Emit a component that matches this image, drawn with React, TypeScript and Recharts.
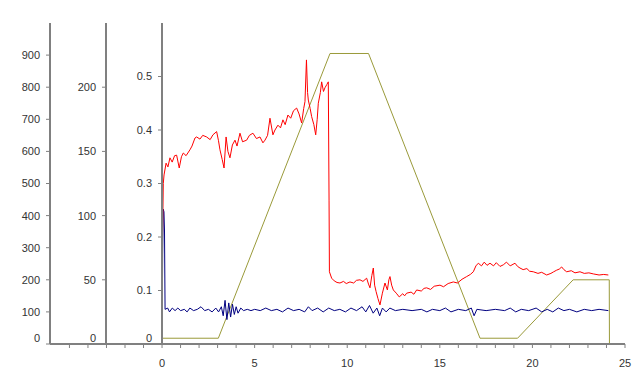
import { LineChart, Line, XAxis, YAxis } from "recharts";

// x positions (minutes) and tick values
const xTicks = [-5, -4, -3, -2, -1, 0, 1, 2, 3, 4, 5, 6, 7, 8, 9, 10, 11, 12, 13, 14, 15, 16, 17, 18, 19, 20, 21, 22, 23, 24, 25];
const tempTicks = [0, 100, 200, 300, 400, 500, 600, 700, 800, 900];
const flowTicks = [0, 50, 100, 150, 200];
const rateTicks = [0, 0.1, 0.2, 0.3, 0.4, 0.5];

// olive profile, left axis (0-1000)
const tempPoints: [number, number][] = [
  [0, 18], [3.04, 18], [9.07, 905], [11.15, 905], [17.17, 18], [19.2, 18], [22.2, 200], [24.15, 200], [24.16, 0],
];

// navy trace, middle axis (0-250)
const flowPoints: [number, number][] = [
  [0, 0], [0.03, 70], [0.06, 105], [0.1, 103], [0.13, 88], [0.16, 27], [0.3, 28], [0.4, 25], [0.55, 28], [0.7, 26],
  [0.85, 28], [1.0, 26], [1.2, 27], [1.35, 25], [1.5, 28], [1.7, 26], [1.9, 27], [2.1, 29], [2.3, 26], [2.5, 27],
  [2.7, 25], [2.9, 28], [3.05, 25], [3.2, 29], [3.3, 22], [3.4, 34], [3.5, 19], [3.6, 32], [3.7, 21], [3.8, 31],
  [3.9, 23], [4.0, 29], [4.1, 24], [4.25, 28], [4.4, 26], [4.6, 27], [4.8, 26], [5.0, 27], [5.3, 26], [5.6, 28],
  [5.9, 26], [6.2, 27], [6.5, 25], [6.8, 28], [7.1, 26], [7.4, 27], [7.7, 25], [7.9, 29], [8.1, 26], [8.4, 28],
  [8.7, 25], [9.0, 28], [9.3, 26], [9.6, 27], [9.9, 25], [10.2, 28], [10.5, 26], [10.8, 29], [11.0, 25], [11.2, 30],
  [11.4, 24], [11.6, 28], [11.75, 22], [11.9, 28], [12.1, 25], [12.3, 28], [12.6, 26], [13.0, 27], [13.5, 26],
  [14.0, 27], [14.3, 25], [14.6, 27], [15.0, 26], [15.3, 28], [15.6, 25], [16.0, 27], [16.4, 26], [16.7, 28],
  [16.85, 22], [17.0, 27], [17.5, 26], [18.0, 27], [18.5, 26], [18.8, 28], [19.1, 25], [19.4, 27], [19.8, 26],
  [20.2, 28], [20.5, 25], [20.8, 27], [21.1, 25], [21.4, 28], [21.7, 26], [22.0, 27], [22.4, 25], [22.8, 27],
  [23.2, 26], [23.6, 27], [24.1, 26],
];

// red trace, inner axis (0-0.6)
const ratePoints: [number, number][] = [
  [0, 0], [0.02, 0.18], [0.07, 0.3], [0.11, 0.316], [0.22, 0.338], [0.32, 0.331], [0.43, 0.348], [0.55, 0.34],
  [0.68, 0.352], [0.79, 0.353], [0.93, 0.329], [1.05, 0.35], [1.15, 0.357], [1.3, 0.352], [1.51, 0.363],
  [1.62, 0.37], [1.78, 0.385], [1.87, 0.387], [2.05, 0.383], [2.2, 0.39], [2.41, 0.387], [2.6, 0.382],
  [2.75, 0.391], [2.95, 0.397], [3.05, 0.38], [3.13, 0.363], [3.25, 0.345], [3.35, 0.329], [3.46, 0.387],
  [3.56, 0.36], [3.67, 0.348], [3.8, 0.372], [3.94, 0.381], [4.05, 0.37], [4.21, 0.394], [4.35, 0.378],
  [4.57, 0.381], [4.72, 0.39], [4.91, 0.394], [5.1, 0.384], [5.29, 0.387], [5.45, 0.376], [5.56, 0.381],
  [5.7, 0.39], [5.83, 0.422], [5.99, 0.391], [6.1, 0.4], [6.26, 0.409], [6.4, 0.404], [6.53, 0.419],
  [6.65, 0.41], [6.8, 0.428], [6.95, 0.422], [7.1, 0.436], [7.27, 0.441], [7.4, 0.43], [7.54, 0.413],
  [7.65, 0.44], [7.72, 0.453], [7.8, 0.531], [7.86, 0.47], [7.9, 0.456], [8.0, 0.44], [8.08, 0.425],
  [8.2, 0.41], [8.3, 0.391], [8.38, 0.42], [8.44, 0.45], [8.55, 0.47], [8.62, 0.49], [8.72, 0.472],
  [8.8, 0.479], [8.9, 0.485], [8.98, 0.49], [9.02, 0.269], [9.04, 0.135], [9.16, 0.123], [9.3, 0.118],
  [9.45, 0.115], [9.61, 0.114], [9.8, 0.117], [9.95, 0.113], [10.15, 0.116], [10.35, 0.114], [10.5, 0.119],
  [10.69, 0.12], [10.85, 0.117], [11.05, 0.123], [11.15, 0.112], [11.23, 0.105], [11.33, 0.128],
  [11.41, 0.142], [11.48, 0.11], [11.56, 0.098], [11.66, 0.085], [11.77, 0.073], [11.9, 0.095],
  [12.04, 0.114], [12.17, 0.101], [12.25, 0.12], [12.31, 0.126], [12.4, 0.11], [12.49, 0.101],
  [12.65, 0.095], [12.81, 0.088], [13.0, 0.094], [13.1, 0.09], [13.21, 0.095], [13.45, 0.097], [13.6, 0.093],
  [13.75, 0.101], [14.0, 0.099], [14.15, 0.104], [14.29, 0.105], [14.5, 0.102], [14.7, 0.108], [15.01, 0.11],
  [15.2, 0.107], [15.45, 0.113], [15.73, 0.116], [15.95, 0.114], [16.2, 0.121], [16.45, 0.126], [16.65, 0.13],
  [16.81, 0.135], [16.95, 0.146], [17.08, 0.151], [17.25, 0.146], [17.4, 0.153], [17.55, 0.147], [17.71, 0.151],
  [17.9, 0.146], [18.05, 0.152], [18.25, 0.145], [18.43, 0.148], [18.6, 0.153], [18.8, 0.146], [19.06, 0.151],
  [19.2, 0.145], [19.33, 0.142], [19.5, 0.139], [19.7, 0.141], [19.85, 0.136], [20.05, 0.135], [20.3, 0.132],
  [20.5, 0.134], [20.77, 0.129], [21.0, 0.132], [21.15, 0.135], [21.31, 0.138], [21.45, 0.14], [21.58, 0.144],
  [21.7, 0.139], [21.85, 0.135], [22.1, 0.137], [22.3, 0.133], [22.57, 0.135], [22.8, 0.132], [23.05, 0.133],
  [23.29, 0.131], [23.6, 0.129], [23.85, 0.13], [24.1, 0.129],
];

const W = 641;
const H = 388;
const axisColor = "#808080";
const labelStyle = { fill: "#333", fontSize: 11, fontFamily: "Liberation Sans, Arial, sans-serif" };

const toRows = (pts: [number, number][]) => pts.map(([x, y]) => ({ x, y }));

function YTick(props: any) {
  const { x, y, payload } = props;
  const lift = payload.value === 0 ? 6 : 0;
  return (
    <text x={x} y={y - lift} dy="0.355em" textAnchor="end" {...labelStyle}>
      {String(payload.value)}
    </text>
  );
}

const layer: React.CSSProperties = { position: "absolute", left: 0, top: 0 };

export default function App() {
  return (
    <div style={{ position: "absolute", left: 0, top: 0, width: W, height: H, background: "#fff" }}>
      <div style={layer}>
        <LineChart width={W} height={H} margin={{ top: 23, right: 16, bottom: 14, left: 0 }}>
          <XAxis
            type="number"
            dataKey="x"
            domain={[-6.05, 25]}
            ticks={xTicks}
            interval={0}
            tickFormatter={(v: number) => (v >= 0 && v % 5 === 0 ? String(v) : "")}
            height={30}
            tickSize={4}
            tickMargin={11}
            axisLine={{ stroke: axisColor, strokeWidth: 2 }}
            tickLine={{ stroke: axisColor }}
            tick={labelStyle}
            allowDataOverflow
          />
          <YAxis
            yAxisId="temp"
            type="number"
            domain={[0, 1000]}
            ticks={tempTicks}
            interval={0}
            width={50}
            tickSize={4}
            tickMargin={6}
            axisLine={{ stroke: axisColor, strokeWidth: 2 }}
            tickLine={{ stroke: axisColor }}
            tick={<YTick />}
          />
          <Line
            yAxisId="temp"
            data={toRows(tempPoints)}
            dataKey="y"
            type="linear"
            stroke="#9a9a3a"
            strokeWidth={1}
            dot={false}
            isAnimationActive={false}
          />
        </LineChart>
      </div>
      <div style={layer}>
        <LineChart width={W} height={H} margin={{ top: 23, right: 16, bottom: 44, left: 56 }}>
          <XAxis hide type="number" dataKey="x" domain={[-3.03, 25]} allowDataOverflow />
          <YAxis
            yAxisId="flow"
            type="number"
            domain={[0, 250]}
            ticks={flowTicks}
            interval={0}
            width={50}
            tickSize={4}
            tickMargin={6}
            axisLine={{ stroke: axisColor, strokeWidth: 2 }}
            tickLine={{ stroke: axisColor }}
            tick={<YTick />}
          />
          <Line
            yAxisId="flow"
            data={toRows(flowPoints)}
            dataKey="y"
            type="linear"
            stroke="#000080"
            strokeWidth={1}
            dot={false}
            isAnimationActive={false}
          />
        </LineChart>
      </div>
      <div style={layer}>
        <LineChart width={W} height={H} margin={{ top: 23, right: 16, bottom: 44, left: 112 }}>
          <XAxis hide type="number" dataKey="x" domain={[0, 25]} allowDataOverflow />
          <YAxis
            yAxisId="rate"
            type="number"
            domain={[0, 0.6]}
            ticks={rateTicks}
            interval={0}
            width={50}
            tickSize={4}
            tickMargin={6}
            axisLine={{ stroke: axisColor, strokeWidth: 2 }}
            tickLine={{ stroke: axisColor }}
            tick={<YTick />}
          />
          <Line
            yAxisId="rate"
            data={toRows(ratePoints)}
            dataKey="y"
            type="linear"
            stroke="#ff0000"
            strokeWidth={1}
            dot={false}
            isAnimationActive={false}
          />
        </LineChart>
      </div>
    </div>
  );
}
